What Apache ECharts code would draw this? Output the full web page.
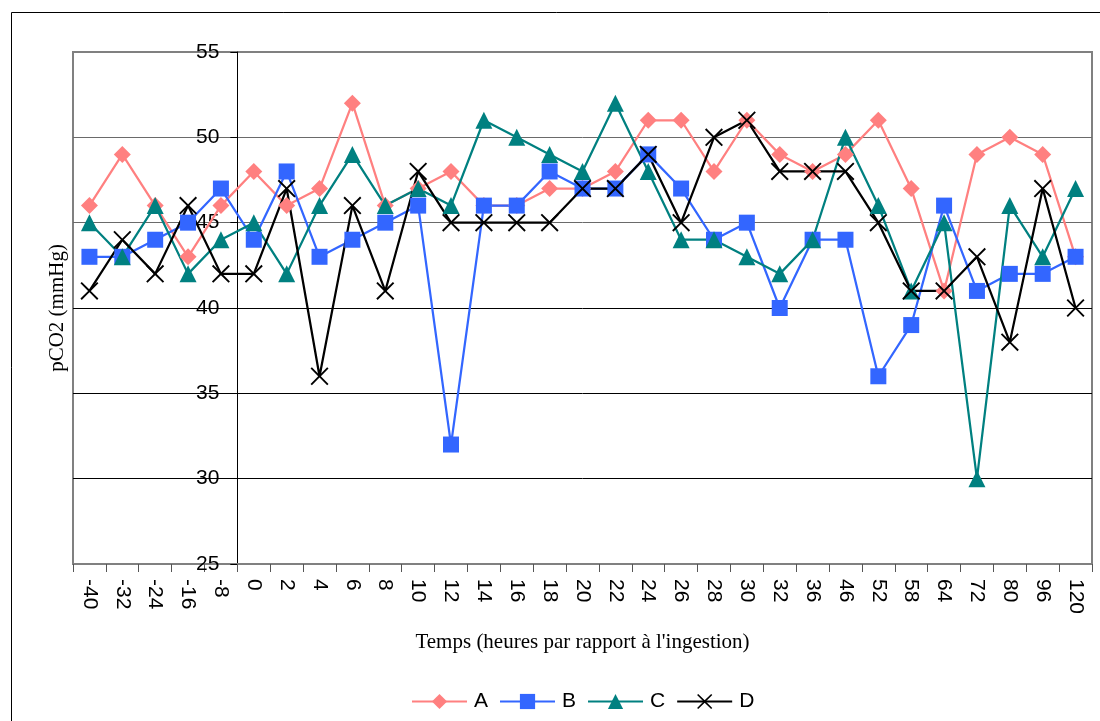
<!DOCTYPE html>
<html>
<head>
<meta charset="utf-8">
<script src="https://cdn.jsdelivr.net/npm/echarts@6/dist/echarts.min.js"></script>
<style>
  html, body { margin: 0; padding: 0; background: #fff; }
  #chart { width: 1100px; height: 721px; }
</style>
</head>
<body>
<div id="chart"></div>
<script>
// Time points (hours relative to ingestion)
const categories = ['-40','-32','-24','-16','-8','0','2','4','6','8','10','12','14','16','18','20','22','24','26','28','30','32','36','46','52','58','64','72','80','96','120'];

// pCO2 readings (mmHg) per subject
const seriesA = [46,49,46,43,46,48,46,47,52,46,47,48,46,46,47,47,48,51,51,48,51,49,48,49,51,47,41,49,50,49,43];
const seriesB = [43,43,44,45,47,44,48,43,44,45,46,32,46,46,48,47,47,49,47,44,45,40,44,44,36,39,46,41,42,42,43];
const seriesC = [45,43,46,42,44,45,42,46,49,46,47,46,51,50,49,48,52,48,44,44,43,42,44,50,46,41,45,30,46,43,47];
const seriesD = [41,44,42,46,42,42,47,36,46,41,48,45,45,45,45,47,47,49,45,50,51,48,48,48,45,41,41,43,38,47,40];

const seriesNames = ['A', 'B', 'C', 'D'];
const yTicks = { min: 25, max: 55, interval: 5 };

const GRID = { left: 73, top: 52, right: 8, bottom: 157 };
const W = 1100;
const gridWidth = W - GRID.left - GRID.right;
// value axis crosses the category axis between "-8" and "0"
const crossIndex = categories.indexOf('0');
const yAxisOffset = -gridWidth * crossIndex / categories.length;

const SANS = '"Liberation Sans", Arial, sans-serif';
const SERIF = '"Liberation Serif", "Times New Roman", serif';

// cross marker drawn as a filled outline
const crossPath = 'path://M1.5,0 L10,8.5 L18.5,0 L20,1.5 L11.5,10 L20,18.5 L18.5,20 L10,11.5 L1.5,20 L0,18.5 L8.5,10 L0,1.5 Z';

function lineSeries(name, data, color, symbol, size) {
  return {
    name, type: 'line', data,
    symbol, symbolSize: size,
    showAllSymbol: true,
    lineStyle: { color, width: 2.25 },
    itemStyle: { color },
    emphasis: { disabled: true },
    animation: false
  };
}

const chart = echarts.init(document.getElementById('chart'), null, { renderer: 'canvas' });
chart.setOption({
  backgroundColor: '#fff',
  animation: false,
  grid: {
    left: GRID.left, top: GRID.top, right: GRID.right, bottom: GRID.bottom,
    show: true, borderColor: '#808080', borderWidth: 2, containLabel: false
  },
  legend: {
    left: 406, top: 686,
    itemWidth: 55, itemHeight: 19, itemGap: 11,
    textStyle: { fontFamily: SANS, fontSize: 21, color: '#000', padding: [0, 0, 0, 2] },
    data: seriesNames
  },
  xAxis: {
    type: 'category',
    data: categories,
    boundaryGap: true,
    name: 'Temps (heures par rapport à l\'ingestion)',
    nameLocation: 'middle',
    nameGap: 68,
    nameTextStyle: { fontFamily: SERIF, fontSize: 21, color: '#000' },
    axisLine: { lineStyle: { color: '#808080', width: 2 } },
    axisTick: { show: true, length: 8, lineStyle: { color: '#555', width: 1 } },
    axisLabel: { rotate: -90, margin: 15, fontFamily: SANS, fontSize: 21, color: '#000', interval: 0 },
    splitLine: { show: false }
  },
  yAxis: {
    type: 'value',
    min: yTicks.min, max: yTicks.max, interval: yTicks.interval,
    position: 'left',
    offset: yAxisOffset,
    axisLine: { show: true, lineStyle: { color: '#000', width: 1 } },
    axisTick: { show: true, length: 7, lineStyle: { color: '#000', width: 1 } },
    axisLabel: { margin: 18, fontFamily: SANS, fontSize: 21, color: '#000' },
    splitLine: {
      show: true,
      lineStyle: { color: ['#808080', '#000', '#000', '#000', '#6a6a6a', '#6a6a6a', '#808080'], width: 1 }
    }
  },
  graphic: [
    {
      type: 'rect', silent: true, z: -1,
      shape: { x: 11.5, y: 12.5, width: 1200, height: 800 },
      style: { fill: 'none', stroke: '#000', lineWidth: 1 }
    },
    {
      type: 'text', silent: true,
      x: 57, y: GRID.top + (721 - GRID.top - GRID.bottom) / 2,
      rotation: Math.PI / 2,
      style: {
        text: 'pCO2 (mmHg)', fontFamily: SERIF, fontSize: 21, fill: '#000',
        align: 'center', verticalAlign: 'middle'
      }
    }
  ],
  series: [
    lineSeries('A', seriesA, '#FF8080', 'diamond', 17),
    lineSeries('B', seriesB, '#3366FF', 'rect', 16),
    lineSeries('C', seriesC, '#008080', 'triangle', 17),
    lineSeries('D', seriesD, '#000000', crossPath, 18)
  ]
});
</script>
</body>
</html>
